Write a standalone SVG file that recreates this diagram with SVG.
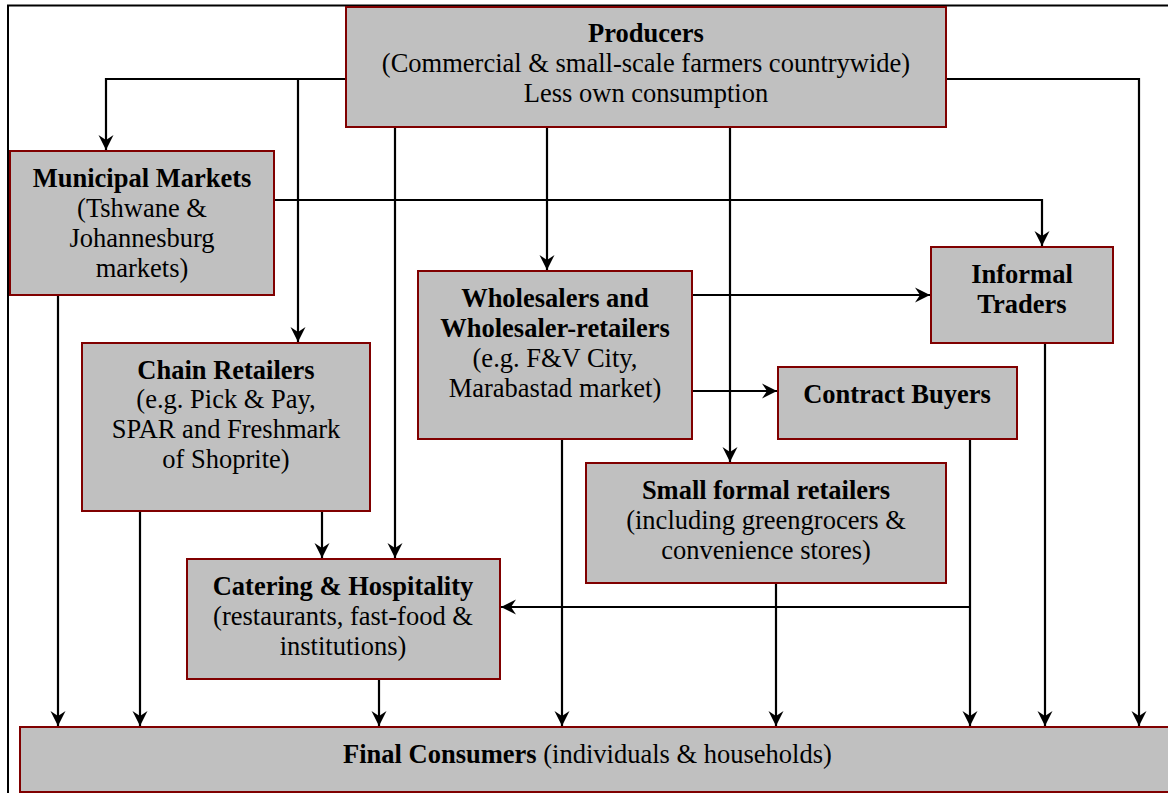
<svg xmlns="http://www.w3.org/2000/svg" width="1168" height="793" viewBox="0 0 1168 793">
  <style>
    .box { fill: #c0c0c0; stroke: #800000; stroke-width: 2; }
    .frame { fill: none; stroke: #000; stroke-width: 2; }
    .link { fill: none; stroke: #000; stroke-width: 2.2; }
    .arrow { marker-end: url(#head); }
    text { font-family: "Liberation Serif", "Times New Roman", serif; font-size: 26.5px; fill: #000; text-anchor: middle; }
    .b { font-weight: bold; }
  </style>
  <defs>
    <marker id="head" markerUnits="userSpaceOnUse" markerWidth="18" markerHeight="18" viewBox="-16 -9 18 18" refX="0" refY="0" orient="auto">
      <path d="M0,0 L-15,-7.5 L-10,0 L-15,7.5 Z" fill="#000"/>
    </marker>
  </defs>

  <rect class="frame" x="8" y="5.5" width="1200" height="800"/>

  <g id="connectors">
    <path class="link arrow" d="M346,79 H106 V150"/>
    <path class="link arrow" d="M298,79 V342"/>
    <path class="link arrow" d="M395,127 V558"/>
    <path class="link arrow" d="M547,127 V270"/>
    <path class="link arrow" d="M730,127 V462"/>
    <path class="link arrow" d="M946,79 H1139 V726"/>
    <path class="link arrow" d="M274,200 H1042 V246"/>
    <path class="link arrow" d="M58,295 V726"/>
    <path class="link arrow" d="M140,511 V726"/>
    <path class="link arrow" d="M322,511 V558"/>
    <path class="link arrow" d="M692,295 H930"/>
    <path class="link arrow" d="M692,391 H777"/>
    <path class="link arrow" d="M562,439 V726"/>
    <path class="link arrow" d="M970,439 V726"/>
    <path class="link arrow" d="M970,607 H501"/>
    <path class="link arrow" d="M1045,343 V726"/>
    <path class="link arrow" d="M776,583 V726"/>
    <path class="link arrow" d="M379,679 V726"/>
  </g>

  <g id="producers">
    <rect class="box" x="346" y="7" width="600" height="120"/>
    <text x="646" y="42" class="b">Producers</text>
    <text x="646" y="72">(Commercial &amp; small-scale farmers countrywide)</text>
    <text x="646" y="102">Less own consumption</text>
  </g>

  <g id="municipal-markets">
    <rect class="box" x="10" y="151" width="264" height="144"/>
    <text x="142" y="187" class="b">Municipal Markets</text>
    <text x="142" y="217">(Tshwane &amp;</text>
    <text x="142" y="247">Johannesburg</text>
    <text x="142" y="277">markets)</text>
  </g>

  <g id="chain-retailers">
    <rect class="box" x="82" y="343" width="288" height="168"/>
    <text x="226" y="379" class="b">Chain Retailers</text>
    <text x="226" y="408">(e.g. Pick &amp; Pay,</text>
    <text x="226" y="438">SPAR and Freshmark</text>
    <text x="226" y="468">of Shoprite)</text>
  </g>

  <g id="wholesalers">
    <rect class="box" x="418" y="271" width="274" height="168"/>
    <text x="555" y="307" class="b">Wholesalers and</text>
    <text x="555" y="337" class="b">Wholesaler-retailers</text>
    <text x="555" y="367">(e.g. F&amp;V City,</text>
    <text x="555" y="397">Marabastad market)</text>
  </g>

  <g id="informal-traders">
    <rect class="box" x="931" y="247" width="182" height="96"/>
    <text x="1022" y="283" class="b">Informal</text>
    <text x="1022" y="313" class="b">Traders</text>
  </g>

  <g id="contract-buyers">
    <rect class="box" x="778" y="367" width="239" height="72"/>
    <text x="897" y="403" class="b">Contract Buyers</text>
  </g>

  <g id="small-formal-retailers">
    <rect class="box" x="586" y="463" width="360" height="120"/>
    <text x="766" y="499" class="b">Small formal retailers</text>
    <text x="766" y="529">(including greengrocers &amp;</text>
    <text x="766" y="559">convenience stores)</text>
  </g>

  <g id="catering">
    <rect class="box" x="187" y="559" width="313" height="120"/>
    <text x="343" y="595" class="b">Catering &amp; Hospitality</text>
    <text x="343" y="625">(restaurants, fast-food &amp;</text>
    <text x="343" y="655">institutions)</text>
  </g>

  <g id="final-consumers">
    <rect class="box" x="20" y="727" width="1170" height="65"/>
    <text x="343" y="763" style="text-anchor:start"><tspan class="b">Final Consumers</tspan> (individuals &amp; households)</text>
  </g>
</svg>
